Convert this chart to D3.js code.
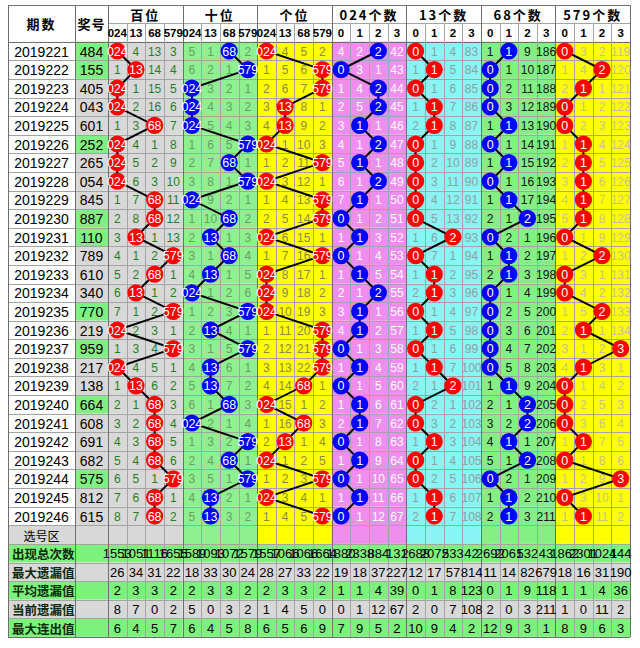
<!DOCTYPE html>
<html><head><meta charset="utf-8">
<script src="https://cdn.jsdelivr.net/npm/d3@7"></script>
<style>body{margin:0;background:#fff}</style>
</head><body><svg id="c" width="640" height="648"></svg>
<script>
// ---------------- DATA ----------------
const periods = ['2019221','2019222','2019223','2019224','2019225','2019226','2019227','2019228','2019229','2019230','2019231','2019232','2019233','2019234','2019235','2019236','2019237','2019238','2019239','2019240','2019241','2019242','2019243','2019244','2019245','2019246'];
const draws = ['484','155','405','043','601','252','265','054','845','887','110','789','610','340','770','219','959','217','138','664','608','691','682','575','812','615'];
const pairFlags = [1,1,0,0,0,1,0,0,0,1,1,0,0,0,1,0,1,0,0,1,0,0,0,1,0,0];
const groupTitles = ['百位','十位','个位','024个数','13个数','68个数','579个数'];
const posSubLabels = ['024','13','68','579'];
const cntSubLabels = ['0','1','2','3'];
// omission values, 0 = hit (ball)
const baiMiss = [[0,4,13,3],[1,0,14,4],[0,1,15,5],[0,2,16,6],[1,3,0,7],[0,4,1,8],[0,5,2,9],[0,6,3,10],[1,7,0,11],[2,8,0,12],[3,0,1,13],[4,1,2,0],[5,2,0,1],[6,0,1,2],[7,1,2,0],[0,2,3,1],[1,3,4,0],[0,4,5,1],[1,0,6,2],[2,1,0,3],[3,2,0,4],[4,3,0,5],[5,4,0,6],[6,5,1,0],[7,6,0,1],[8,7,0,2]];
const shiMiss = [[5,1,0,2],[6,2,1,0],[0,3,2,1],[0,4,3,2],[0,5,4,3],[1,6,5,0],[2,7,0,1],[3,8,1,0],[0,9,2,1],[1,10,0,2],[2,0,1,3],[3,1,0,4],[4,0,1,5],[0,1,2,6],[1,2,3,0],[2,0,4,1],[3,1,5,0],[4,0,6,1],[5,0,7,2],[6,1,0,3],[0,2,1,4],[1,3,2,0],[2,4,0,1],[3,5,1,0],[4,0,2,1],[5,0,3,2]];
const geMiss = [[0,4,5,2],[1,5,6,0],[2,6,7,0],[3,0,8,1],[4,0,9,2],[0,1,10,3],[1,2,11,0],[0,3,12,1],[1,4,13,0],[2,5,14,0],[0,6,15,1],[1,7,16,0],[0,8,17,1],[0,9,18,2],[0,10,19,3],[1,11,20,0],[2,12,21,0],[3,13,22,0],[4,14,0,1],[0,15,1,2],[1,16,0,3],[2,0,1,4],[0,1,2,5],[1,2,3,0],[0,3,4,1],[1,4,5,0]];
const c024Miss = [[4,2,0,42],[0,3,1,43],[1,4,0,44],[2,5,0,45],[3,0,1,46],[4,1,0,47],[5,0,1,48],[6,1,0,49],[7,0,1,50],[0,1,2,51],[1,0,3,52],[0,1,4,53],[1,0,5,54],[2,1,0,55],[3,0,1,56],[4,0,2,57],[0,1,3,58],[1,0,4,59],[0,1,5,60],[1,0,6,61],[2,0,7,62],[0,1,8,63],[1,0,9,64],[0,1,10,65],[1,0,11,66],[0,1,12,67]];
const c13Miss = [[0,1,4,83],[1,0,5,84],[0,1,6,85],[1,0,7,86],[2,0,8,87],[0,1,9,88],[0,2,10,89],[0,3,11,90],[0,4,12,91],[0,5,13,92],[1,6,0,93],[0,7,1,94],[1,0,2,95],[2,0,3,96],[0,1,4,97],[1,0,5,98],[0,1,6,99],[1,0,7,100],[2,1,0,101],[0,2,1,102],[0,3,2,103],[1,0,3,104],[0,1,4,105],[0,2,5,106],[1,0,6,107],[2,0,7,108]];
const c68Miss = [[1,0,9,186],[0,1,10,187],[0,2,11,188],[0,3,12,189],[1,0,13,190],[0,1,14,191],[1,0,15,192],[0,1,16,193],[1,0,17,194],[2,1,0,195],[0,2,1,196],[1,0,2,197],[2,0,3,198],[0,1,4,199],[0,2,5,200],[0,3,6,201],[0,4,7,202],[0,5,8,203],[1,0,9,204],[2,1,0,205],[3,2,0,206],[4,0,1,207],[5,1,0,208],[0,2,1,209],[1,0,2,210],[2,0,3,211]];
const c579Miss = [[0,3,2,119],[1,4,0,120],[2,0,1,121],[0,1,2,122],[0,2,3,123],[1,0,4,124],[2,0,5,125],[3,0,6,126],[4,0,7,127],[5,0,8,128],[0,1,9,129],[1,2,0,130],[0,3,1,131],[0,4,2,132],[1,5,0,133],[2,0,1,134],[3,1,2,0],[4,0,3,1],[0,1,4,2],[0,2,5,3],[0,3,6,4],[1,0,7,5],[0,1,8,6],[1,2,9,0],[0,3,10,1],[1,0,11,2]];
const statLabels = ['出现总次数','最大遗漏值','平均遗漏值','当前遗漏值','最大连出值'];
const statTotal  = [1553,1051,1116,1655,1589,1093,1072,1579,1557,1066,1066,1664,1880,2338,884,131,2688,2072,533,42,2692,2061,532,43,1862,2301,1024,144];
const statMaxMiss= [26,34,31,22,18,33,30,24,28,27,33,22,19,18,37,227,12,17,57,814,11,14,82,679,18,16,31,190];
const statAvgMiss= [2,3,3,2,2,3,3,2,2,3,3,2,1,1,4,39,0,1,8,123,0,1,9,118,1,1,4,36];
const statCurMiss= [8,7,0,2,5,0,3,2,1,4,5,0,0,1,12,67,2,0,7,108,2,0,3,211,1,0,11,2];
const statMaxRun = [6,4,5,7,6,4,5,8,6,5,6,9,7,9,5,2,10,9,4,2,12,9,3,1,8,9,6,3];
const selectLabel = '选号区';

// ---------------- LAYOUT / STYLE ----------------
const X_LEFT=8, X_PERIOD=75, X_DRAW=108, X_RIGHT=630, Y_TOP=5, Y_H1=23, Y_H2=41.7, Y_BOTTOM=636.9;
const NUM = '"Liberation Sans Narrow","Liberation Sans",Arial,sans-serif';
const CJK = '"Noto Sans CJK SC","Noto Sans",sans-serif';
const GRAY = '#d8d8d8', STATGREEN = '#7cf27c', PAIRGREEN = '#80f080';
const groups = [
  {miss:baiMiss,  subs:posSubLabels, bg:'#d8d8d8', text:'#1f7f1f', ball:'#ff0000'},
  {miss:shiMiss,  subs:posSubLabels, bg:'#8ef08e', text:'#689f68', ball:'#0000ff'},
  {miss:geMiss,   subs:posSubLabels, bg:'#ffff00', text:'#8a8a48', ball:'#ff0000'},
  {miss:c024Miss, subs:cntSubLabels, bg:'#f08ef0', text:'#ffffff', ball:'#0000ff'},
  {miss:c13Miss,  subs:cntSubLabels, bg:'#88f4f4', text:'#8aa2a2', ball:'#ff0000'},
  {miss:c68Miss,  subs:cntSubLabels, bg:'#84f084', text:'#111111', ball:'#0000ff'},
  {miss:c579Miss, subs:cntSubLabels, bg:'#ffff00', text:'#c4c48c', ball:'#ff0000'}
];
const stats = [statTotal, statMaxMiss, statAvgMiss, statCurMiss, statMaxRun];

const nData = periods.length;
const nRows = nData + 1 + statLabels.length;
const y = d3.scaleBand().domain(d3.range(nRows)).range([Y_H2, Y_BOTTOM]);
const x = d3.scaleBand().domain(d3.range(groups.length*4)).range([X_DRAW, X_RIGHT]);
const cx = c => x(c) + x.bandwidth()/2;
const cy = r => y(r) + y.bandwidth()/2;

const svg = d3.select('#c');
const gBg = svg.append('g'), gGrid = svg.append('g'), gText = svg.append('g'),
      gLine = svg.append('g'), gBall = svg.append('g');

// header background
gBg.append('rect').attr('x',X_LEFT).attr('y',Y_TOP).attr('width',X_RIGHT-X_LEFT).attr('height',Y_H2-Y_TOP).attr('fill','#fff');

// row backgrounds
d3.range(nRows).forEach(r => {
  const isStat = r > nData;
  const statColor = isStat ? ((r - nData - 1) % 2 === 0 ? STATGREEN : GRAY) : null;
  // period column
  gBg.append('rect').attr('x',X_LEFT).attr('y',y(r)).attr('width',X_PERIOD-X_LEFT).attr('height',y.bandwidth())
     .attr('fill', isStat ? statColor : (r === nData ? GRAY : '#fff'));
  // draw column
  gBg.append('rect').attr('x',X_PERIOD).attr('y',y(r)).attr('width',X_DRAW-X_PERIOD).attr('height',y.bandwidth())
     .attr('fill', isStat ? statColor : (r < nData && pairFlags[r] ? PAIRGREEN : GRAY));
  groups.forEach((g,gi) => {
    gBg.append('rect').attr('x',x(gi*4)).attr('y',y(r)).attr('width',x.bandwidth()*4).attr('height',y.bandwidth())
       .attr('fill', isStat ? statColor : g.bg);
  });
});

// grid
const crisp = v => Math.round(v) + 0.5;
function hline(y0,x0,x1,col){ gGrid.append('line').attr('x1',x0).attr('x2',x1).attr('y1',crisp(y0)).attr('y2',crisp(y0)).attr('stroke',col).attr('stroke-width',1); }
function vline(x0,y0,y1,col){ gGrid.append('line').attr('x1',crisp(x0)).attr('x2',crisp(x0)).attr('y1',y0).attr('y2',y1).attr('stroke',col).attr('stroke-width',1); }
const GL = '#a4a4a4', GD = '#6e6e6e';
hline(Y_TOP, X_LEFT, X_RIGHT, GD);
hline(Y_H1, X_DRAW, X_RIGHT, GL);
d3.range(nRows+1).forEach(r => hline(r<nRows ? y(r) : Y_BOTTOM, X_LEFT, X_RIGHT, r===0||r===nRows ? GD : GL));
d3.range(groups.length*4).forEach(c => { if (c%4) vline(x(c), Y_H1, Y_BOTTOM, GL); });
d3.range(groups.length).forEach(gi => vline(x(gi*4), Y_TOP, Y_BOTTOM, GD));
vline(X_LEFT, Y_TOP, Y_BOTTOM, GD);
vline(X_PERIOD, Y_TOP, Y_BOTTOM, GD);
vline(X_RIGHT, Y_TOP, Y_BOTTOM, GD);

// header text
function txt(xp, yp, s, o) {
  return gText.append('text').attr('x',xp).attr('y',yp).attr('text-anchor',o.anchor||'middle')
    .attr('dominant-baseline','central').attr('font-family',o.font||NUM).attr('font-size',o.size||12)
    .attr('font-weight',o.weight||'normal').attr('fill',o.fill||'#000').attr('letter-spacing',o.ls||0).text(s);
}
txt((X_LEFT+X_PERIOD)/2, (Y_TOP+Y_H2)/2, '期数', {font:CJK,size:13,weight:'bold',ls:2});
txt((X_PERIOD+X_DRAW)/2, (Y_TOP+Y_H2)/2, '奖号', {font:CJK,size:13,weight:'bold',ls:1});
groups.forEach((g,gi) => {
  txt(x(gi*4) + x.bandwidth()*2, (Y_TOP+Y_H1)/2+0.5, groupTitles[gi], {font:CJK,size:13,weight:'bold',ls:2});
  g.subs.forEach((s,k) => txt(cx(gi*4+k), (Y_H1+Y_H2)/2+0.5, s, {font:'"Liberation Sans",Arial,sans-serif',size:11.5,weight:'bold'}));
});

// data rows
periods.forEach((p,r) => {
  txt((X_LEFT+X_PERIOD)/2, cy(r)+0.5, p, {size:14});
  txt((X_PERIOD+X_DRAW)/2, cy(r)+0.5, draws[r], {size:14});
  groups.forEach((g,gi) => {
    g.miss[r].forEach((v,k) => {
      if (v !== 0) txt(cx(gi*4+k), cy(r)+0.5, v, {size:12, fill:g.text});
    });
  });
});
txt((X_LEFT+X_PERIOD)/2, cy(nData)+0.5, selectLabel, {font:CJK,size:12});

// stats rows
statLabels.forEach((lab,i) => {
  const r = nData + 1 + i;
  txt(X_LEFT+4, cy(r)+0.5, lab, {font:CJK,size:12.5,weight:'bold',anchor:'start',fill:'#0a2a0a'});
  stats[i].forEach((v,c) => txt(cx(c), cy(r)+0.5, v, {size:13}));
});

// trend lines + balls
const R = 8.6;
groups.forEach((g,gi) => {
  const pts = g.miss.map((row,r) => [cx(gi*4 + row.indexOf(0)), cy(r), row.indexOf(0)]);
  gLine.append('path').attr('d', d3.line()(pts.map(p=>[p[0],p[1]])))
    .attr('fill','none').attr('stroke','#000').attr('stroke-width',2);
  pts.forEach(p => {
    gBall.append('circle').attr('cx',p[0]).attr('cy',p[1]).attr('r',R).attr('fill',g.ball);
    gBall.append('text').attr('x',p[0]).attr('y',p[1]+0.5).attr('text-anchor','middle')
      .attr('dominant-baseline','central').attr('font-family',NUM).attr('font-size',12.5)
      .attr('fill','#fff').text(g.subs[p[2]]);
  });
});
</script></body></html>
